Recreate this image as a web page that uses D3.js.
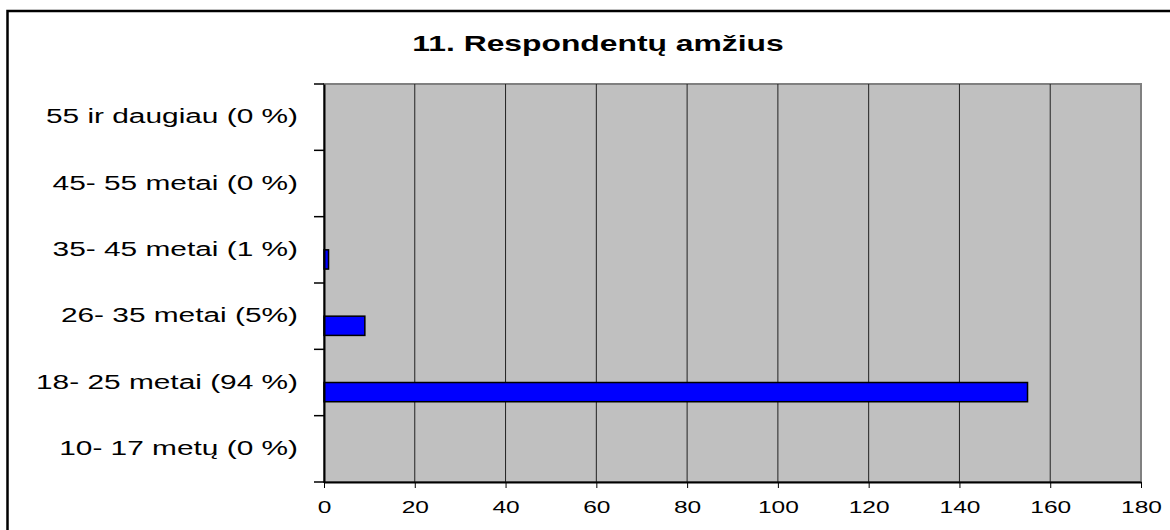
<!DOCTYPE html>
<html>
<head>
<meta charset="utf-8">
<script src="https://cdn.jsdelivr.net/npm/d3@7"></script>
<style>
  body { margin: 0; background: #fff; }
  text { font-family: "Liberation Sans", Arial, sans-serif; fill: #000; }
</style>
</head>
<body>
<div class="chart"></div>
<script>
"use strict";

// data, bottom to top as in the picture
const categories = [
    "10- 17 metų (0 %)",
    "18- 25 metai (94 %)",
    "26- 35 metai (5%)",
    "35- 45 metai (1 %)",
    "45- 55 metai (0 %)",
    "55 ir daugiau (0 %)"
];
const counts = [0, 155, 9, 1, 0, 0];
const xTicks = [0, 20, 40, 60, 80, 100, 120, 140, 160, 180];
const title = "11. Respondentų amžius";

const W = 1170, H = 530;
const plot = {left: 324, right: 1141, top: 84, bottom: 482};
const stretch = 1.53; // the original text is drawn wide

// widen a text node horizontally, keeping its anchor
function widen(sel, k) {
    sel.each(function() {
        const w = this.getComputedTextLength();
        d3.select(this)
            .attr('textLength', w * k)
            .attr('lengthAdjust', 'spacingAndGlyphs');
    });
}

const svg = d3.select('.chart')
    .append('svg')
    .attr('width', W)
    .attr('height', H);

// outer frame
svg.append('rect')
    .attr('x', 7.5).attr('y', 11)
    .attr('width', 1200).attr('height', 600)
    .attr('fill', '#fff')
    .attr('stroke', '#000')
    .attr('stroke-width', 2.5);

svg.append('text')
    .attr('x', 598).attr('y', 51)
    .attr('text-anchor', 'middle')
    .style('font-size', '21.5px')
    .style('font-weight', 'bold')
    .text(title)
    .call(widen, 1.48);

const xScale = d3.scaleLinear()
    .domain([0, 180])
    .range([plot.left, plot.right]);

const yScale = d3.scaleBand()
    .domain(categories.slice().reverse())
    .range([plot.top, plot.bottom]);

// plot background
svg.append('rect')
    .attr('x', plot.left).attr('y', plot.top)
    .attr('width', plot.right - plot.left)
    .attr('height', plot.bottom - plot.top)
    .attr('fill', '#c0c0c0')
    .attr('stroke', '#808080')
    .attr('stroke-width', 2);

// vertical grid
svg.selectAll('.grid')
    .data(xTicks.slice(1, -1))
    .enter()
    .append('line')
    .attr('class', 'grid')
    .attr('x1', d => xScale(d)).attr('x2', d => xScale(d))
    .attr('y1', plot.top).attr('y2', plot.bottom)
    .attr('stroke', '#222')
    .attr('stroke-width', 1);

// bars (sit in the lower half of each band)
const bw = yScale.bandwidth();
svg.selectAll('.bar')
    .data(categories.map((c, i) => ({cat: c, v: counts[i]})).filter(d => d.v > 0))
    .enter()
    .append('rect')
    .attr('class', 'bar')
    .attr('x', xScale(0))
    .attr('y', d => yScale(d.cat) + bw / 2)
    .attr('width', d => xScale(d.v) - xScale(0))
    .attr('height', bw * 0.29)
    .attr('fill', '#0000ff')
    .attr('stroke', '#000')
    .attr('stroke-width', 1.5);

// x axis
const xAxis = svg.append('g')
    .attr('transform', `translate(0, ${plot.bottom})`)
    .call(d3.axisBottom(xScale).tickValues(xTicks).tickSize(6).tickSizeOuter(0).tickPadding(14));
xAxis.select('.domain').attr('stroke', '#000').attr('stroke-width', 2);
xAxis.selectAll('.tick line').attr('stroke', '#000');
xAxis.selectAll('text').style('font-size', '16px').call(widen, stretch);

// y axis
const yAxis = svg.append('g')
    .attr('transform', `translate(${plot.left}, 0)`)
    .call(d3.axisLeft(yScale).tickSize(0).tickPadding(26));
yAxis.select('.domain').attr('stroke', '#000').attr('stroke-width', 2);
yAxis.selectAll('text').style('font-size', '19.5px').call(widen, stretch);

// band boundary ticks
const bounds = yScale.domain().map(c => yScale(c)).concat([plot.bottom]);
svg.selectAll('.ytick')
    .data(bounds)
    .enter()
    .append('line')
    .attr('class', 'ytick')
    .attr('x1', plot.left - 10).attr('x2', plot.left)
    .attr('y1', d => d).attr('y2', d => d)
    .attr('stroke', '#000')
    .attr('stroke-width', 1.5);
</script>
</body>
</html>
